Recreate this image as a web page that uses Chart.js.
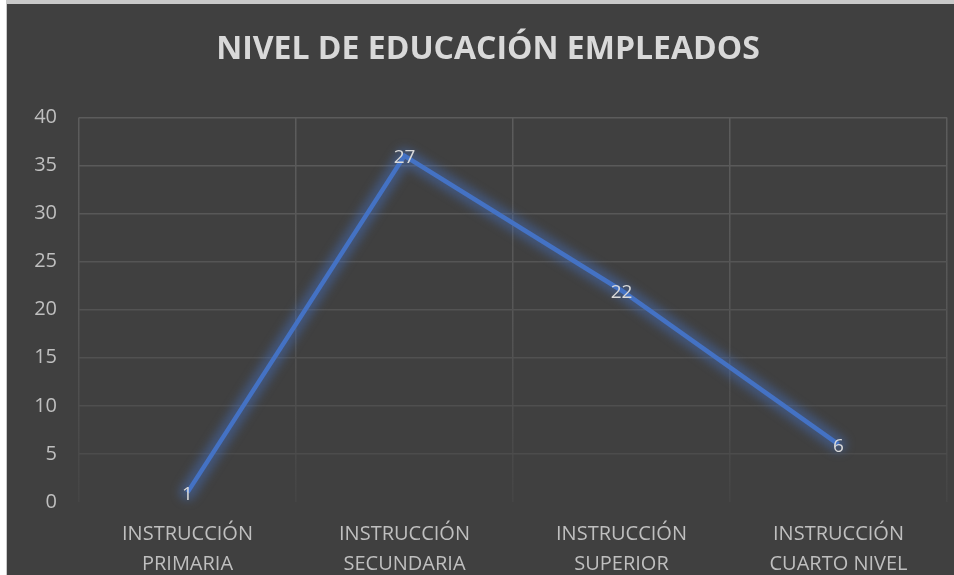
<!DOCTYPE html>
<html>
<head>
<meta charset="utf-8">
<script src="https://cdn.jsdelivr.net/npm/chart.js@4/dist/chart.umd.min.js"></script>
<style>
  html, body { margin: 0; padding: 0; background: #ffffff; }
  #frame { position: absolute; left: 6px; top: 0; width: 948px; height: 575px; background: #c9c9c9; }
  #wrap { position: absolute; left: 1px; top: 4px; width: 947px; height: 571px; background: #404040; }
</style>
</head>
<body>
<div id="frame"><div id="wrap"><canvas id="chart" width="947" height="571"></canvas></div></div>
<script>
const categories = [
  ['INSTRUCCIÓN', 'PRIMARIA'],
  ['INSTRUCCIÓN', 'SECUNDARIA'],
  ['INSTRUCCIÓN', 'SUPERIOR'],
  ['INSTRUCCIÓN', 'CUARTO NIVEL']
];
// plotted height of each point
const values = [1, 36, 22, 6];
// text of the data labels shown on the points
const pointLabels = ['1', '27', '22', '6'];
const yTicks = { min: 0, max: 40, step: 5 };

const FONT = '"Open Sans", "Noto Sans", sans-serif';

// soft blue glow behind the line (drawn from the dataset's own points)
const glowPlugin = {
  id: 'glow',
  beforeDatasetDraw(chart) {
    const ctx = chart.ctx;
    const pts = chart.getDatasetMeta(0).data;
    ctx.save();
    ctx.filter = 'blur(5px)';
    ctx.strokeStyle = 'rgba(68, 114, 196, 0.45)';
    ctx.lineWidth = 16;
    ctx.lineJoin = 'round';
    ctx.lineCap = 'round';
    ctx.beginPath();
    pts.forEach((p, i) => (i ? ctx.lineTo(p.x, p.y) : ctx.moveTo(p.x, p.y)));
    ctx.stroke();
    ctx.restore();
  }
};

// value labels drawn on top of each point
const labelPlugin = {
  id: 'pointText',
  afterDatasetsDraw(chart) {
    const ctx = chart.ctx;
    const meta = chart.getDatasetMeta(0);
    ctx.save();
    ctx.font = '19px ' + FONT;
    ctx.fillStyle = '#d9d9d9';
    ctx.textAlign = 'center';
    ctx.textBaseline = 'middle';
    meta.data.forEach((pt, i) => {
      ctx.fillText(pointLabels[i], pt.x, pt.y + 2);
    });
    ctx.restore();
  }
};

function fadeGrid(context, horizontal) {
  const chart = context.chart;
  const area = chart.chartArea;
  if (horizontal && context.tick && context.tick.value === 0) return 'rgba(0,0,0,0)';
  if (!area) return '#595959';
  if (horizontal) {
    const y = chart.scales.y.getPixelForValue(context.tick.value);
    const t = (y - area.top) / (area.bottom - area.top);
    const c = Math.round(92 - t * 18);
    return `rgb(${c},${c},${c})`;
  }
  const g = chart.ctx.createLinearGradient(0, area.top, 0, area.bottom);
  g.addColorStop(0, '#5c5c5c');
  g.addColorStop(0.5, '#565656');
  g.addColorStop(1, '#454545');
  return g;
}

const ctx = document.getElementById('chart').getContext('2d');
new Chart(ctx, {
  type: 'line',
  data: {
    labels: categories,
    datasets: [{
      data: values,
      borderColor: '#4472c4',
      borderWidth: 4.5,
      pointRadius: 0,
      tension: 0,
      fill: false
    }]
  },
  options: {
    responsive: false,
    animation: false,
    layout: { padding: { left: 22, right: 7, top: 0, bottom: 0 } },
    plugins: {
      legend: { display: false },
      tooltip: { enabled: false },
      title: {
        display: true,
        text: 'NIVEL DE EDUCACIÓN EMPLEADOS',
        color: '#d9d9d9',
        font: { family: FONT, size: 32, weight: 'bold', lineHeight: 1.2 },
        padding: { top: 27, bottom: 48 }
      }
    },
    scales: {
      x: {
        offset: true,
        grid: { offset: true, drawTicks: false, color: (c) => fadeGrid(c, false), lineWidth: 1.5 },
        border: { display: false },
        ticks: {
          color: '#bfbfbf',
          padding: 17,
          maxRotation: 0,
          font: { family: FONT, size: 20, lineHeight: 1.5 }
        },
        afterFit(scale) { scale.height = 73; }
      },
      y: {
        min: yTicks.min,
        max: yTicks.max,
        grid: { drawTicks: false, color: (c) => fadeGrid(c, true), lineWidth: 1.5 },
        border: { display: false },
        ticks: {
          stepSize: yTicks.step,
          color: '#bfbfbf',
          padding: 22,
          font: { family: FONT, size: 20 }
        },
        afterFit(scale) { scale.width = 50; }
      }
    }
  },
  plugins: [glowPlugin, labelPlugin]
});
</script>
</body>
</html>
